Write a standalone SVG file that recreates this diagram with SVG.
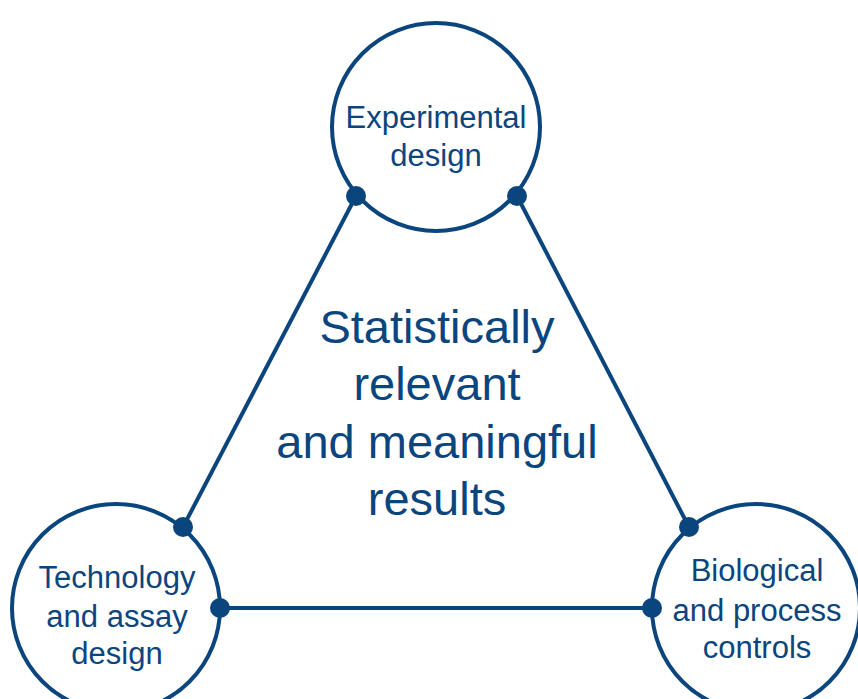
<svg xmlns="http://www.w3.org/2000/svg" width="858" height="699" viewBox="0 0 858 699">
  <style>
    .ring { fill: #ffffff; stroke: #0b457e; stroke-width: 4; }
    .link { stroke: #0b457e; stroke-width: 4; fill: none; }
    .dot { fill: #0b457e; }
    .lbl { font-family: "Liberation Sans", Arial, sans-serif; font-size: 31px; fill: #0b457e; text-anchor: middle; }
    .core { font-family: "Liberation Sans", Arial, sans-serif; font-size: 47px; fill: #0b457e; text-anchor: middle; }
  </style>
  <rect width="858" height="699" fill="#ffffff"/>

  <!-- connectors between the three circles -->
  <g id="connectors">
    <line class="link" x1="356" y1="196" x2="183" y2="527"/>
    <line class="link" x1="517" y1="196" x2="689" y2="527"/>
    <line class="link" x1="220" y1="608" x2="652" y2="608"/>
  </g>

  <!-- centre statement -->
  <g id="center-text">
    <text class="core" x="437" y="343">Statistically</text>
    <text class="core" x="437" y="400">relevant</text>
    <text class="core" x="437" y="458">and meaningful</text>
    <text class="core" x="437" y="515">results</text>
  </g>

  <g id="experimental-design">
    <circle class="ring" cx="436" cy="127" r="104"/>
    <text class="lbl" x="436" y="128">Experimental</text>
    <text class="lbl" x="436" y="166">design</text>
    <circle class="dot" cx="356" cy="196" r="10"/>
    <circle class="dot" cx="517" cy="196" r="10"/>
  </g>

  <g id="technology-assay-design">
    <circle class="ring" cx="116" cy="608" r="104"/>
    <text class="lbl" x="117" y="588">Technology</text>
    <text class="lbl" x="117" y="627">and assay</text>
    <text class="lbl" x="117" y="664">design</text>
    <circle class="dot" cx="183" cy="527" r="10"/>
    <circle class="dot" cx="220" cy="608" r="10"/>
  </g>

  <g id="biological-process-controls">
    <circle class="ring" cx="756" cy="608" r="104"/>
    <text class="lbl" x="757" y="581">Biological</text>
    <text class="lbl" x="757" y="621">and process</text>
    <text class="lbl" x="757" y="658">controls</text>
    <circle class="dot" cx="689" cy="527" r="10"/>
    <circle class="dot" cx="652" cy="608" r="10"/>
  </g>
</svg>
